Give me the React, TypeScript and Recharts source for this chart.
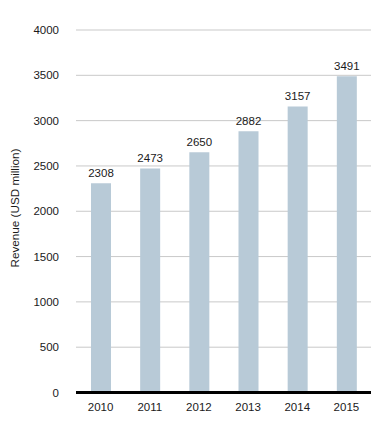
import { Bar, BarChart, CartesianGrid, LabelList, XAxis, YAxis } from "recharts";

const years = ["2010", "2011", "2012", "2013", "2014", "2015"];
const revenue = [2308, 2473, 2650, 2882, 3157, 3491];
const yTicks = [0, 500, 1000, 1500, 2000, 2500, 3000, 3500, 4000];

const FONT = '"Liberation Sans", Arial, sans-serif';
const TEXT = "#1a1a1a";

const rows = years.map((year, i) => ({ year, revenue: revenue[i] }));

export default function App() {
  return (
    <div style={{ position: "absolute", left: 0, top: 0, width: 386, height: 421, background: "#fff" }}>
      <BarChart
        width={386}
        height={421}
        data={rows}
        margin={{ top: 30, right: 15, bottom: 0, left: 0 }}
        barCategoryGap="30%"
      >
        <CartesianGrid stroke="#c9c9c9" vertical={false} />
        <XAxis
          dataKey="year"
          height={28.5}
          tickLine={false}
          axisLine={{ stroke: "#000", strokeWidth: 3 }}
          tick={{ fill: TEXT, fontSize: 11.5, fontFamily: FONT }}
          tickMargin={4}
        />
        <YAxis
          width={76}
          domain={[0, 4000]}
          ticks={yTicks}
          axisLine={false}
          tickLine={false}
          tick={{ fill: TEXT, fontSize: 11.5, fontFamily: FONT }}
          tickMargin={11}
          label={{
            content: () => (
              <text
                x={14}
                y={208}
                transform="rotate(-90, 14, 208)"
                textAnchor="middle"
                dominantBaseline="central"
                fill={TEXT}
                fontSize={11.7}
                fontFamily={FONT}
              >
                Revenue (USD million)
              </text>
            ),
          }}
        />
        <Bar dataKey="revenue" fill="#b8cad7" barSize={20} isAnimationActive={false}>
          <LabelList
            dataKey="revenue"
            position="top"
            offset={6}
            fill={TEXT}
            fontSize={11.5}
            fontFamily={FONT}
          />
        </Bar>
      </BarChart>
    </div>
  );
}
